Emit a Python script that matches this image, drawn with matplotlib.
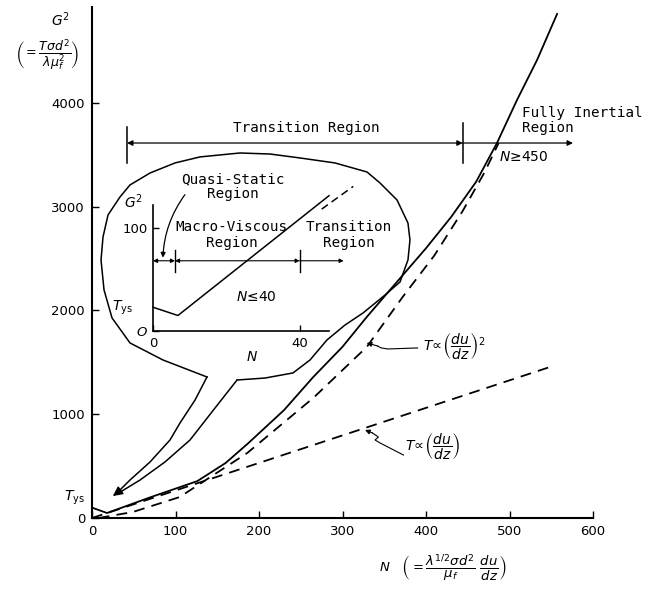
import numpy as np
import matplotlib
matplotlib.use("Agg")
from matplotlib import pyplot as plt

# ---- main curves (N, G^2) ----
solid_n = [0, 18, 70, 126, 160, 187, 230, 265, 300, 329, 360, 400, 430, 460, 485, 509, 533, 557]
solid_g = [100, 48, 200, 355, 530, 720, 1040, 1359, 1650, 1937, 2227, 2600, 2900, 3240, 3614, 4029, 4414, 4858]

quad_n = [8, 49, 105, 186, 265, 329, 372, 410, 444, 470, 487]
quad_g = [0, 58, 202, 627, 1157, 1648, 2130, 2530, 2960, 3330, 3614]

lin_n = [0, 554]
lin_g = [0, 1470]

# inset curve (N <= 40)
inset_n = [0, 6.8, 48]
inset_g = [23, 15, 131]
inset_dash_n = [46, 54.6]
inset_dash_g = [118, 140]

# speech balloon outline and its tail (in main data units)
balloon_n = [173.7, 207.2, 240.7, 261.1, 281.4, 303.0, 324.6, 350.9, 368.9, 378.4, 380.8,
             378.4, 365.3, 344.9, 329.3, 291.0, 249.1, 213.2, 177.2, 129.3, 99.4, 69.5,
             45.5, 33.5, 19.2, 13.2, 10.8, 14.4, 24.0, 45.5, 85.0, 137.7]
balloon_g = [1330, 1349, 1398, 1523, 1716, 1860, 1976, 2149, 2275, 2487, 2680,
             2843, 3065, 3229, 3335, 3422, 3470, 3508, 3518, 3480, 3422, 3325,
             3210, 3094, 2921, 2709, 2487, 2198, 1928, 1687, 1523, 1359]
tail_left_n = [137.7, 123.4, 105.4, 93.4, 69.5, 45.5, 29.9]
tail_left_g = [1359, 1137, 916, 752, 540, 366, 241]
tail_right_n = [173.7, 147.3, 117.4, 87.4, 57.5, 35.9]
tail_right_g = [1330, 1060, 752, 540, 366, 260]

xticks = [0, 100, 200, 300, 400, 500, 600]
yticks = [0, 1000, 2000, 3000, 4000]

mono = "DejaVu Sans Mono"
fs = 10.3

fig = plt.figure(figsize=(6.45, 5.92), dpi=100)
ax = fig.add_axes([92 / 645, 1 - 518 / 592, 501 / 645, 511 / 592])
ax.set_xlim(0, 600)
ax.set_ylim(0, 4925)
for s in ["top", "right"]:
    ax.spines[s].set_visible(False)
for s in ["left", "bottom"]:
    ax.spines[s].set_linewidth(1.5)
ax.set_xticks(xticks)
ax.set_yticks(yticks)
ax.tick_params(direction="in", length=5, width=1, labelsize=9.5, pad=5)

lw = 1.3
ax.plot(solid_n, solid_g, color="k", lw=lw)
ax.plot(quad_n, quad_g, color="k", lw=lw, dashes=(6, 4))
ax.plot(lin_n, lin_g, color="k", lw=lw, dashes=(6, 4))

# balloon
ax.plot(balloon_n, balloon_g, color="k", lw=1.1)
ax.plot(tail_left_n, tail_left_g, color="k", lw=1.1)
ax.plot(tail_right_n, tail_right_g, color="k", lw=1.1)
ax.annotate("", xy=(25, 212), xytext=(tail_left_n[-1], tail_left_g[-1]),
            arrowprops=dict(arrowstyle="-|>", color="k", lw=1.1, mutation_scale=14))

# region markers on the main plot
ax.annotate("", xy=(42, 3614), xytext=(444, 3614),
            arrowprops=dict(arrowstyle="<|-|>", color="k", lw=0.9, mutation_scale=8,
                            shrinkA=0, shrinkB=0))
ax.annotate("", xy=(444, 3614), xytext=(576, 3614),
            arrowprops=dict(arrowstyle="<|-", color="k", lw=0.9, mutation_scale=8,
                            shrinkA=0, shrinkB=0))
ax.plot([42, 42], [3420, 3770], color="k", lw=1.1)
ax.plot([444, 444], [3420, 3810], color="k", lw=1.1)
ax.text(257, 3759, "Transition Region", family=mono, fontsize=fs, ha="center", va="center")
ax.text(515, 3830, "Fully Inertial\nRegion", family=mono, fontsize=fs, ha="left",
        va="center", linespacing=1.1)
ax.text(517, 3480, "$N$≥450", fontsize=10, ha="center", va="center")

# leaders for the two asymptotes
ax.annotate("", xy=(329, 1687), xytext=(342, 1658),
            arrowprops=dict(arrowstyle="-|>", color="k", lw=0.8, mutation_scale=7, shrinkA=0, shrinkB=0))
ax.plot([342, 346, 354, 390], [1658, 1640, 1629, 1639], color="k", lw=0.8)
ax.text(397, 1648, r"$T\!\propto\!\left(\dfrac{du}{dz}\right)^2$", fontsize=10, ha="left", va="center")

ax.annotate("", xy=(327, 848), xytext=(336, 819),
            arrowprops=dict(arrowstyle="-|>", color="k", lw=0.8, mutation_scale=7, shrinkA=0, shrinkB=0))
ax.plot([336, 343, 339, 345, 373], [819, 780, 752, 723, 607], color="k", lw=0.8)
ax.text(375, 684, r"$T\!\propto\!\left(\dfrac{du}{dz}\right)$", fontsize=10, ha="left", va="center")

# axis labels
ax.text(-38, 4800, r"$G^2$", fontsize=10, ha="center", va="center", clip_on=False)
ax.text(-54, 4463, r"$\left(=\dfrac{T\sigma d^2}{\lambda\mu_f^2}\right)$", fontsize=9,
        ha="center", va="center", clip_on=False)
ax.text(420, -482, r"$N\quad\left(=\dfrac{\lambda^{1/2}\sigma d^2}{\mu_f}\ \dfrac{du}{dz}\right)$",
        fontsize=9.5, ha="center", va="center", clip_on=False)
ax.text(-8, 190, r"$T_{\rm ys}$", fontsize=10, ha="right", va="center", clip_on=False)

# ---- inset ----
ins = fig.add_axes([153 / 645, 1 - 331 / 592, 176 / 645, 126 / 592])
ins.patch.set_visible(False)
ins.set_xlim(0, 48)
ins.set_ylim(0, 122)
for s in ["top", "right"]:
    ins.spines[s].set_visible(False)
for s in ["left", "bottom"]:
    ins.spines[s].set_linewidth(1.2)
ins.set_xticks([0, 40])
ins.set_yticks([0, 100])
ins.set_yticklabels(["$O$", "100"])
ins.tick_params(direction="in", length=4, width=1, labelsize=9.5, pad=4)
ins.plot(inset_n, inset_g, color="k", lw=1.1, clip_on=False)
ins.plot(inset_dash_n, inset_dash_g, color="k", lw=1.1, dashes=(5, 3), clip_on=False)

ins.annotate("", xy=(0, 68), xytext=(6, 68),
             arrowprops=dict(arrowstyle="<|-|>", color="k", lw=0.8, mutation_scale=6,
                             shrinkA=0, shrinkB=0), annotation_clip=False)
ins.annotate("", xy=(6, 68), xytext=(40, 68),
             arrowprops=dict(arrowstyle="<|-|>", color="k", lw=0.8, mutation_scale=6,
                             shrinkA=0, shrinkB=0), annotation_clip=False)
ins.annotate("", xy=(40, 68), xytext=(52, 68),
             arrowprops=dict(arrowstyle="<|-", color="k", lw=0.8, mutation_scale=6,
                             shrinkA=0, shrinkB=0), annotation_clip=False)
ins.plot([6, 6], [57, 78], color="k", lw=1.0, clip_on=False)
ins.plot([40, 40], [57, 78], color="k", lw=1.0, clip_on=False)

ins.text(21.8, 140, "Quasi-Static\nRegion", family=mono, fontsize=fs, ha="center", va="center",
         linespacing=1.1)
ins.text(21.5, 93, "Macro-Viscous\nRegion", family=mono, fontsize=fs, ha="center", va="center",
         linespacing=1.1)
ins.text(53.5, 93, "Transition\nRegion", family=mono, fontsize=fs, ha="center", va="center",
         linespacing=1.1)
ins.text(28.3, 33, "$N$≤40", fontsize=10, ha="center", va="center")
ins.text(-5.4, 125, r"$G^2$", fontsize=10, ha="center", va="center")
ins.text(-8.2, 22, r"$T_{\rm ys}$", fontsize=10, ha="center", va="center")
ins.text(27, -25, r"$N$", fontsize=10, ha="center", va="center")
ins.annotate("", xy=(2.7, 71), xytext=(8.7, 132),
             arrowprops=dict(arrowstyle="-|>", color="k", lw=0.9, mutation_scale=7,
                             connectionstyle="arc3,rad=0.15", shrinkA=0, shrinkB=0),
             annotation_clip=False)

fig.savefig("out.png", dpi=100)
